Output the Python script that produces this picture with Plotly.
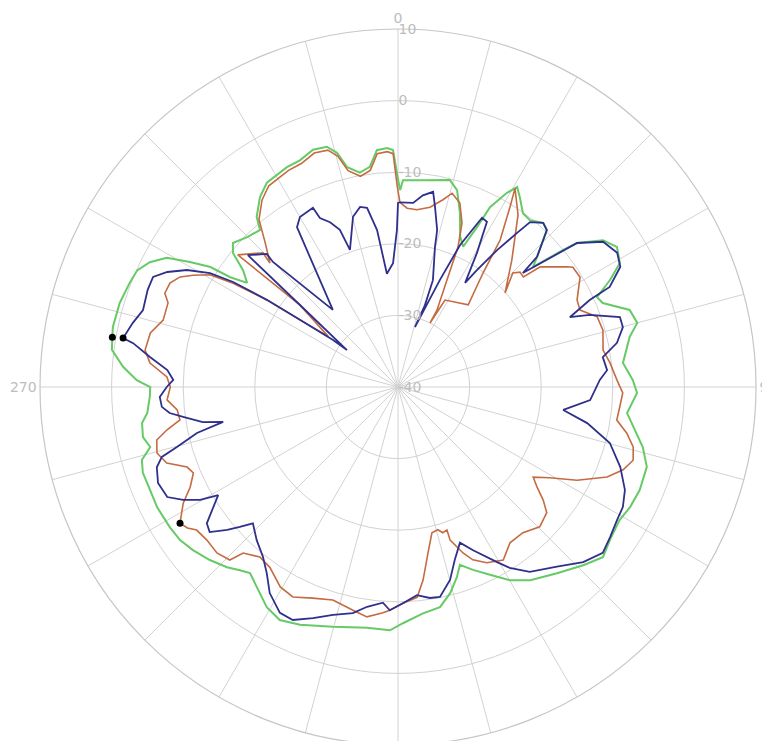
import plotly.graph_objects as go

# ---- data (angle in degrees clockwise from top, level in dB) ----
green_theta = [0.6, 1.4, 6.9, 14.1, 16.7, 19.6, 22.5, 24.9, 26.3, 27.1, 29.3, 30.8, 32.7, 35.7, 38.3,
               41.5, 43.5, 46.9, 48.4, 50.3, 51.2, 54.4, 57.4, 60.8, 63.2, 65.7, 67.7, 71.6, 75.0,
               77.8, 83.9, 88.3, 91.4, 96.5, 103.8, 107.8, 113.1, 117.3, 121.0, 125.8, 129.7, 133.9,
               139.5, 145.6, 149.9, 153.9, 157.7, 160.8, 162.8, 165.8, 169.2, 173.7, 178.8, 181.9,
               187.3, 195.2, 202.4, 206.9, 210.8, 215.2, 218.5, 220.8, 223.5, 227.4, 231.5, 234.9,
               238.4, 243.5, 247.4, 251.4, 254.1, 256.4, 258.9, 262.0, 264.1, 267.7, 270.0, 271.5,
               274.2, 277.4, 279.9, 281.9, 286.8, 291.2, 294.1, 296.7, 299.2, 301.0, 302.6, 303.2,
               304.6, 307.0, 309.1, 311.1, 314.8, 318.7, 320.3, 324.0, 327.3, 333.2, 336.6, 340.3,
               343.5, 345.4, 347.0, 349.9, 352.7, 354.9, 357.4, 358.8, 359.7, 360.6]
green_r = [-12.5, -11.1, -10.9, -10.2, -11.3, -14.2, -17.3, -18.4, -15.1, -11.8, -8.9, -7.5, -8.5, -10.1, -10.3,
           -9.4, -9.8, -13.4, -14.8, -10.0, -7.9, -4.8, -3.7, -4.5, -6.8, -9.5, -9.1, -5.9, -5.4,
           -6.9, -8.4, -7.2, -6.6, -7.8, -4.8, -3.5, -3.3, -3.5, -3.9, -3.5, -2.8, -4.1,
           -5.8, -7.3, -8.8, -10.8, -12.4, -13.7, -12.2, -10.3, -8.7, -8.2, -7.0, -6.0,
           -6.1, -5.3, -4.1, -3.5, -4.2, -5.8, -6.8, -6.2, -5.3, -4.3, -3.4, -2.8,
           -2.6, -2.4, -2.5, -2.4, -2.8, -4.4, -3.7, -3.9, -4.8, -5.3, -5.4, -3.5,
           -1.5, 0.3, 0.5, 0.7, 0.6, 0.2, -0.1, -1.2, -3.0, -6.1, -8.9, -12.0,
           -14.4, -12.9, -10.3, -9.4, -10.3, -10.8, -9.1, -7.2, -6.1, -5.6, -5.5, -4.8,
           -5.0, -6.2, -8.5, -9.6, -9.0, -6.8, -6.6, -6.9, -10.1, -12.5]

red_theta = [0.6, 2.9, 6.1, 10.1, 13.5, 15.6, 18.6, 21.3, 23.2, 24.6, 26.9, 26.6, 28.4, 40.5, 36.7,
             34.8, 31.9, 30.5, 34.9, 41.9, 48.7, 45.2, 46.7, 48.7, 49.8, 54.6, 55.6, 58.9, 64.1,
             67.1, 70.6, 74.5, 79.8, 83.5, 88.2, 91.5, 95.1, 98.6, 101.4, 104.3, 107.3, 110.2,
             113.3, 117.5, 120.9, 123.7, 125.7, 127.9, 130.2, 134.6, 139.4, 144.3, 148.7, 153.2,
             156.6, 158.6, 161.2, 161.1, 162.9, 164.4, 166.9, 169.8, 172.6, 174.8, 178.7, 182.1,
             183.8, 187.7, 191.4, 197.0, 202.0, 206.6, 210.5, 215.4, 219.1, 223.0, 224.2, 227.5,
             231.3, 234.6, 236.2, 238.0, 241.6, 244.3, 247.2, 249.2, 251.8, 254.7, 257.6, 259.5,
             261.4, 264.1, 266.8, 270.0, 272.5, 275.5, 278.3, 282.3, 285.9, 290.1, 291.9, 294.5,
             296.8, 298.6, 300.8, 302.2, 303.6, 304.4, 305.9, 309.9, 309.5, 314.8, 314.1, 317.5,
             320.3, 324.0, 327.3, 333.2, 336.6, 340.3, 343.5, 345.4, 347.0, 349.9, 352.7, 354.9,
             357.4, 358.8, 359.8, 360.6]
red_r = [-14.2, -15.0, -15.1, -14.5, -13.1, -11.9, -12.9, -15.4, -18.7, -23.6, -28.0, -30.0, -26.2, -24.9, -20.1,
         -15.0, -10.4, -7.8, -10.7, -16.2, -20.1, -17.4, -16.6, -16.7, -14.0, -11.0, -10.4, -10.3, -12.2,
         -12.4, -10.5, -10.3, -10.9, -10.2, -9.4, -8.6, -8.9, -9.1, -7.4, -6.1, -5.6, -6.5,
         -8.2, -11.8, -15.3, -17.3, -16.1, -14.3, -12.8, -12.2, -13.2, -13.2, -11.7, -12.5,
         -13.7, -15.1, -17.4, -18.9, -18.7, -19.3, -19.1, -16.4, -12.8, -10.5, -9.8, -8.8,
         -8.4, -7.6, -8.2, -8.9, -8.2, -7.2, -7.6, -9.1, -9.4, -8.3, -6.3, -5.7,
         -5.8, -5.5, -4.6, -4.1, -5.9, -7.8, -9.0, -8.5, -6.0, -5.1, -5.5, -7.2,
         -9.2, -9.0, -7.7, -8.2, -7.7, -5.2, -4.3, -4.6, -5.9, -5.8, -4.9, -5.0,
         -5.9, -7.4, -9.4, -12.8, -18.0, -23.4, -28.0, -22.0, -11.0, -13.4, -15.1, -12.5,
         -9.6, -7.7, -6.6, -6.1, -6.0, -5.3, -5.5, -6.7, -9.0, -10.1, -9.5, -7.3,
         -7.1, -7.4, -12.0, -14.2]

blue_theta = [0.6, 4.7, 7.4, 10.2, 11.6, 14.0, 14.8, 18.1, 18.2, 15.8, 21.4, 23.6, 26.4, 28.3, 30.5,
              32.8, 34.0, 35.9, 37.7, 38.7, 41.5, 43.5, 46.9, 47.6, 51.2, 54.7, 58.5, 61.6, 64.7,
              65.6, 67.9, 69.4, 72.5, 75.1, 78.6, 81.7, 85.4, 88.0, 93.9, 97.9, 100.8, 104.8,
              109.8, 114.4, 118.1, 121.3, 125.3, 129.0, 133.4, 138.5, 144.5, 148.3, 150.5, 155.3,
              158.3, 161.8, 164.9, 168.7, 171.4, 174.8, 178.7, 182.1, 184.0, 188.0, 191.3, 195.9,
              200.2, 204.3, 207.6, 211.9, 215.2, 218.5, 222.7, 226.8, 228.5, 230.1, 232.4, 234.5,
              239.0, 240.3, 242.3, 244.5, 248.2, 251.6, 253.5, 254.8, 257.1, 258.7, 259.8, 262.1,
              263.5, 265.2, 267.6, 270.0, 271.8, 274.2, 276.9, 279.4, 280.1, 283.6, 286.8, 291.2,
              294.2, 296.5, 299.0, 301.2, 302.5, 303.6, 304.4, 305.9, 305.9, 309.9, 311.3, 315.4,
              315.0, 319.8, 327.7, 330.0, 334.6, 335.2, 337.6, 339.7, 340.7, 345.2, 348.1, 350.2,
              352.4, 354.4, 357.7, 359.6, 360.0, 360.6]
blue_r = [-14.2, -14.2, -13.0, -12.3, -14.3, -17.4, -19.8, -24.3, -28.0, -31.3, -23.9, -18.4, -13.6, -13.8, -18.3,
          -22.7, -20.3, -16.4, -12.8, -10.5, -9.4, -9.8, -13.4, -16.4, -7.9, -4.9, -4.1, -4.7, -7.3,
          -10.6, -14.1, -11.4, -7.5, -7.5, -8.8, -11.1, -10.7, -11.8, -13.1, -16.7, -13.1, -9.4,
          -7.0, -5.2, -4.4, -4.2, -3.7, -3.2, -4.4, -6.5, -8.3, -10.3, -11.9, -14.9,
          -16.6, -14.6, -12.1, -10.1, -10.2, -10.8, -9.8, -8.8, -9.8, -9.0, -7.8, -6.9,
          -5.6, -4.3, -4.4, -6.1, -8.2, -9.7, -10.9, -12.2, -10.5, -8.9, -6.8, -7.2,
          -10.7, -8.2, -6.1, -4.3, -3.9, -4.5, -5.6, -8.0, -11.2, -15.1, -12.3, -9.7,
          -7.9, -6.9, -6.7, -7.7, -8.6, -7.7, -5.1, -2.5, -1.0, -1.9, -2.8, -2.5,
          -2.5, -4.0, -6.3, -9.3, -12.7, -18.0, -23.4, -28.8, -31.2, -22.2, -12.1, -13.9,
          -15.3, -25.9, -13.6, -12.6, -12.3, -14.0, -15.1, -16.6, -19.7, -15.4, -14.3, -14.6,
          -17.9, -24.1, -22.7, -18.1, -14.3, -14.2]

dot_theta = [279.9, 280.1, 238.0]
dot_r = [0.5, -1.0, -4.1]

radial_ticks = [-40, -30, -20, -10, 0, 10]
angle_ticks = list(range(0, 360, 15))
angle_labels = {0: "0", 90: "90", 270: "270"}

GREEN = "#66ca66"
RED = "#c56b42"
BLUE = "#2e308c"
GRID = "#d2d2d2"
TXT = "#bdbdbd"

fig = go.Figure()
fig.add_trace(go.Scatterpolar(theta=green_theta, r=green_r, mode="lines",
                              line=dict(color=GREEN, width=2.0), hoverinfo="skip"))
fig.add_trace(go.Scatterpolar(theta=red_theta, r=red_r, mode="lines",
                              line=dict(color=RED, width=1.6), hoverinfo="skip"))
fig.add_trace(go.Scatterpolar(theta=blue_theta, r=blue_r, mode="lines",
                              line=dict(color=BLUE, width=1.8), hoverinfo="skip"))
fig.add_trace(go.Scatterpolar(theta=dot_theta, r=dot_r, mode="markers",
                              marker=dict(color="black", size=7), hoverinfo="skip"))

# the page body adds an 8px offset; margins compensate so the dial sits like the reference
fig.update_layout(
    width=770, height=741,
    margin=dict(l=32, r=22, t=21, b=4),
    paper_bgcolor="white",
    showlegend=False,
    font=dict(family="DejaVu Sans, Liberation Sans, sans-serif", size=14, color=TXT),
    polar=dict(
        bgcolor="white",
        domain=dict(x=[0, 1], y=[0, 1]),
        angularaxis=dict(
            rotation=90, direction="clockwise",
            tickmode="array", tickvals=angle_ticks,
            ticktext=[angle_labels.get(a, "") for a in angle_ticks],
            showgrid=True, gridcolor=GRID, gridwidth=1,
            showline=True, linecolor="#c6c6c6", linewidth=1.2,
            ticks="", tickfont=dict(color=TXT, size=14),
        ),
        radialaxis=dict(
            range=[-40, 10], angle=90, tickangle=90,
            tickmode="array", tickvals=radial_ticks,
            ticktext=[str(v) for v in radial_ticks],
            showgrid=True, gridcolor=GRID, gridwidth=1.2,
            showline=False, ticks="",
            tickfont=dict(color=TXT, size=14),
        ),
    ),
)

fig.write_html("out.html")
